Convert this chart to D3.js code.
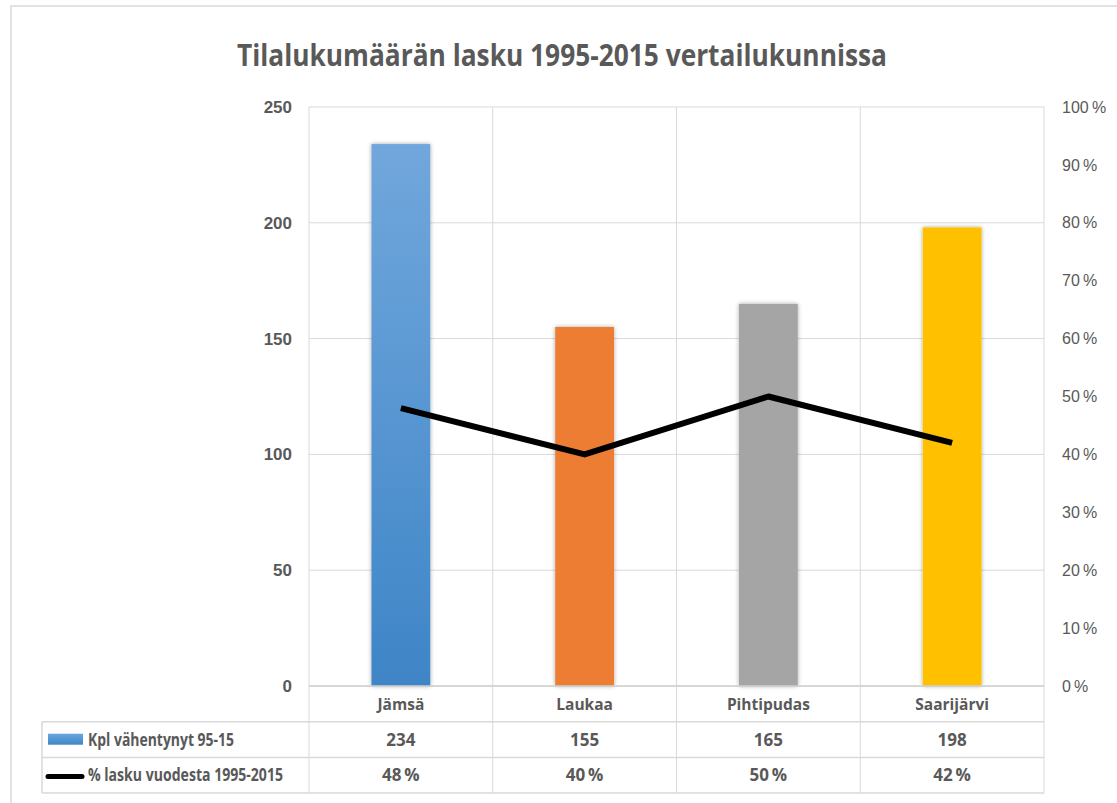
<!DOCTYPE html>
<html lang="fi">
<head>
<meta charset="UTF-8">
<title>Tilalukumäärän lasku</title>
<script src="https://cdn.jsdelivr.net/npm/d3@7"></script>
<style>
  body { margin: 0; background: #fff; }
  text { font-family: "Liberation Sans Narrow", "Open Sans", sans-serif; fill: #595959; }
</style>
</head>
<body>
<div id="chart"></div>
<script>
  // Data
  const kunnat = ["Jämsä", "Laukaa", "Pihtipudas", "Saarijärvi"];
  const kplVahentynyt = [234, 155, 165, 198];
  const laskuProsentti = [0.48, 0.40, 0.50, 0.42];
  const vasenTicks = [0, 50, 100, 150, 200, 250];
  const oikeaTicks = [0, 0.1, 0.2, 0.3, 0.4, 0.5, 0.6, 0.7, 0.8, 0.9, 1.0];
  const barColors = ["url(#blueGrad)", "#ed7d31", "#a5a5a5", "#ffc000"];

  const W = 1117, H = 803;
  const plot = { left: 309, right: 1044, top: 107, bottom: 686 };
  const rowH = 35.7;

  const svg = d3.select("#chart").append("svg")
      .attr("width", W).attr("height", H);

  const defs = svg.append("defs");
  const grad = defs.append("linearGradient").attr("id", "blueGrad")
      .attr("x1", 0).attr("y1", 0).attr("x2", 0).attr("y2", 1);
  grad.append("stop").attr("offset", "0%").attr("stop-color", "#71a7dc");
  grad.append("stop").attr("offset", "100%").attr("stop-color", "#3e85c7");
  const legGrad = defs.append("linearGradient").attr("id", "legGrad")
      .attr("x1", 0).attr("y1", 0).attr("x2", 0).attr("y2", 1);
  legGrad.append("stop").attr("offset", "0%").attr("stop-color", "#6aa6dd");
  legGrad.append("stop").attr("offset", "100%").attr("stop-color", "#3f86c8");
  const shadow = defs.append("filter").attr("id", "shadow")
      .attr("x", "-20%").attr("y", "-5%").attr("width", "140%").attr("height", "110%");
  shadow.append("feDropShadow").attr("dx", 0).attr("dy", 0)
      .attr("stdDeviation", 2).attr("flood-color", "#000").attr("flood-opacity", 0.35);

  // outer frame
  svg.append("rect")
      .attr("x", 11).attr("y", 6).attr("width", W).attr("height", H)
      .attr("fill", "none").attr("stroke", "#d9d9d9").attr("stroke-width", 1.5);

  // title
  svg.append("text")
      .attr("x", 562).attr("y", 66)
      .attr("text-anchor", "middle")
      .attr("font-size", 31).attr("font-weight", "bold")
      .attr("textLength", 650).attr("lengthAdjust", "spacingAndGlyphs")
      .text("Tilalukumäärän lasku 1995-2015 vertailukunnissa");

  // scales
  const x = d3.scaleBand().domain(kunnat).range([plot.left, plot.right]).padding(0);
  const y = d3.scaleLinear().domain([0, 250]).range([plot.bottom, plot.top]);
  const y2 = d3.scaleLinear().domain([0, 1]).range([plot.bottom, plot.top]);

  const grid = "#d9d9d9";

  // horizontal gridlines
  svg.append("g").selectAll("line").data(vasenTicks).join("line")
      .attr("x1", plot.left).attr("x2", plot.right)
      .attr("y1", d => y(d)).attr("y2", d => y(d))
      .attr("stroke", grid).attr("stroke-width", 1);

  // vertical gridlines (through table)
  const vx = kunnat.map(k => x(k)).concat([plot.right]);
  svg.append("g").selectAll("line").data(vx).join("line")
      .attr("x1", d => d).attr("x2", d => d)
      .attr("y1", plot.top).attr("y2", plot.bottom + rowH * 3)
      .attr("stroke", grid).attr("stroke-width", 1);

  // left axis
  const yAxis = d3.axisLeft(y).tickValues(vasenTicks).tickSize(0).tickPadding(17);
  const gy = svg.append("g").attr("transform", `translate(${plot.left},0)`).call(yAxis);
  gy.select(".domain").remove();
  gy.selectAll("text").attr("font-size", 17).attr("font-weight", "bold")
      .style("font-family", "'Liberation Sans Narrow', sans-serif").attr("fill", "#595959");

  // right axis
  const fmtPct = d => Math.round(d * 100) + "\u2009%";
  const y2Axis = d3.axisRight(y2).tickValues(oikeaTicks).tickSize(0).tickPadding(18).tickFormat(fmtPct);
  const gy2 = svg.append("g").attr("transform", `translate(${plot.right},0)`).call(y2Axis);
  gy2.select(".domain").remove();
  gy2.selectAll("text").attr("font-size", 16)
      .style("font-family", "'Liberation Sans Narrow', sans-serif").attr("fill", "#595959");

  // bars
  const bw = x.bandwidth() * 0.32;
  svg.append("g").selectAll("rect").data(kplVahentynyt).join("rect")
      .attr("x", (d, i) => x(kunnat[i]) + x.bandwidth() / 2 - bw / 2)
      .attr("y", d => y(d))
      .attr("width", bw)
      .attr("height", d => y(0) - y(d))
      .attr("fill", (d, i) => barColors[i])
      .attr("filter", "url(#shadow)");

  // axis baseline
  svg.append("line")
      .attr("x1", plot.left).attr("x2", plot.right)
      .attr("y1", plot.bottom).attr("y2", plot.bottom)
      .attr("stroke", "#d0d0d0").attr("stroke-width", 1.5);

  // line series
  const line = d3.line()
      .x((d, i) => x(kunnat[i]) + x.bandwidth() / 2)
      .y(d => y2(d));
  svg.append("path").datum(laskuProsentti)
      .attr("d", line)
      .attr("fill", "none").attr("stroke", "#000").attr("stroke-width", 6)
      .attr("stroke-linejoin", "round");

  // data table
  const tLeft = 42;
  const r1 = plot.bottom + rowH, r2 = plot.bottom + rowH * 2, r3 = plot.bottom + rowH * 3;
  const tbl = svg.append("g");
  [r1, r2, r3].forEach(yy => tbl.append("line")
      .attr("x1", tLeft).attr("x2", plot.right).attr("y1", yy).attr("y2", yy)
      .attr("stroke", grid).attr("stroke-width", 1.5));
  tbl.append("line").attr("x1", tLeft).attr("x2", tLeft).attr("y1", r1).attr("y2", r3)
      .attr("stroke", grid).attr("stroke-width", 1.5);

  const cx = k => x(k) + x.bandwidth() / 2;
  tbl.selectAll("text.cat").data(kunnat).join("text")
      .attr("x", d => cx(d)).attr("y", plot.bottom + rowH / 2 + 6)
      .attr("text-anchor", "middle").attr("font-size", 15.5).attr("font-weight", "bold")
      .text(d => d);
  tbl.selectAll("text.v1").data(kplVahentynyt).join("text")
      .attr("x", (d, i) => cx(kunnat[i])).attr("y", r1 + rowH / 2 + 6)
      .attr("text-anchor", "middle").attr("font-size", 17).attr("font-weight", "bold")
      .text(d => d);
  tbl.selectAll("text.v2").data(laskuProsentti).join("text")
      .attr("x", (d, i) => cx(kunnat[i])).attr("y", r2 + rowH / 2 + 6)
      .attr("text-anchor", "middle").attr("font-size", 17).attr("font-weight", "bold")
      .text(d => fmtPct(d));

  // legend keys in table
  tbl.append("rect").attr("x", 48).attr("y", r1 + 12).attr("width", 35).attr("height", 11)
      .attr("fill", "url(#legGrad)");
  tbl.append("text").attr("x", 88).attr("y", r1 + rowH / 2 + 6)
      .attr("font-size", 17).attr("font-weight", "bold")
      .attr("textLength", 146).attr("lengthAdjust", "spacingAndGlyphs")
      .text("Kpl vähentynyt 95-15");
  tbl.append("line").attr("x1", 48).attr("x2", 82).attr("y1", r2 + 19).attr("y2", r2 + 19)
      .attr("stroke", "#000").attr("stroke-width", 5).attr("stroke-linecap", "round");
  tbl.append("text").attr("x", 88).attr("y", r2 + rowH / 2 + 6)
      .attr("font-size", 17).attr("font-weight", "bold")
      .attr("textLength", 195).attr("lengthAdjust", "spacingAndGlyphs")
      .text("% lasku vuodesta 1995-2015");
</script>
</body>
</html>
